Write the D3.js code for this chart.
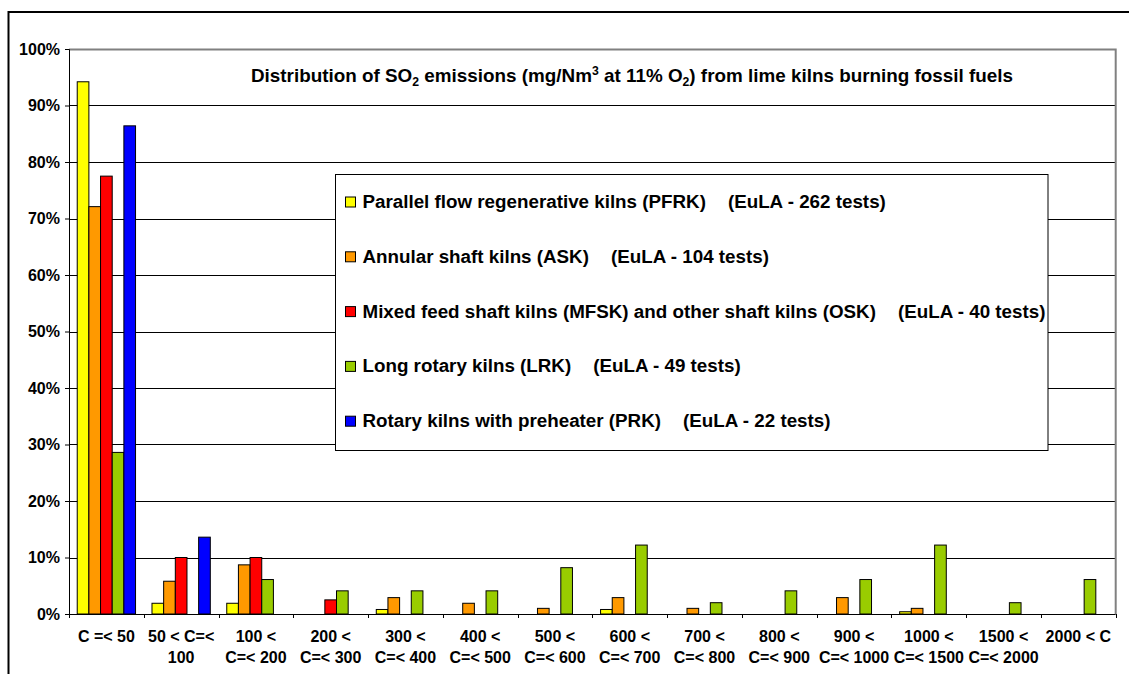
<!DOCTYPE html>
<html>
<head>
<meta charset="utf-8">
<script src="https://cdn.jsdelivr.net/npm/d3@7"></script>
<style>
  html, body { margin: 0; padding: 0; background: #fff; }
  svg { display: block; font-family: "Liberation Sans", Arial, sans-serif; }
</style>
</head>
<body>
<svg id="chart" width="1129" height="674"></svg>
<script>
// ---------- data ----------
const categories = ["C =< 50", "50 < C=< 100", "100 < C=< 200", "200 < C=< 300", "300 < C=< 400",
  "400 < C=< 500", "500 < C=< 600", "600 < C=< 700", "700 < C=< 800", "800 < C=< 900",
  "900 < C=< 1000", "1000 < C=< 1500", "1500 < C=< 2000", "2000 < C"];
const categoryLabelLines = [["C =< 50"], ["50 < C=<", "100"], ["100 <", "C=< 200"], ["200 <", "C=< 300"],
  ["300 <", "C=< 400"], ["400 <", "C=< 500"], ["500 <", "C=< 600"], ["600 <", "C=< 700"],
  ["700 <", "C=< 800"], ["800 <", "C=< 900"], ["900 <", "C=< 1000"], ["1000 <", "C=< 1500"],
  ["1500 <", "C=< 2000"], ["2000 < C"]];

const seriesNames = ["Parallel flow regenerative kilns (PFRK)", "Annular shaft kilns (ASK)",
  "Mixed feed shaft kilns (MFSK) and other shaft kilns (OSK)", "Long rotary kilns (LRK)",
  "Rotary kilns with preheater (PRK)"];
const seriesTests = ["(EuLA - 262 tests)", "(EuLA - 104 tests)", "(EuLA - 40 tests)",
  "(EuLA - 49 tests)", "(EuLA - 22 tests)"];
const seriesColors = ["#FFFF00", "#FF9900", "#FF0000", "#99CC00", "#0000FF"];

// percentages per category
const pfrk = [94.2, 1.9, 1.9, 0, 0.8, 0, 0, 0.8, 0, 0, 0, 0.4, 0, 0];
const ask  = [72.1, 5.8, 8.7, 0, 2.9, 1.9, 1.0, 2.9, 1.0, 0, 2.9, 1.0, 0, 0];
const mfsk = [77.5, 10.0, 10.0, 2.5, 0, 0, 0, 0, 0, 0, 0, 0, 0, 0];
const lrk  = [28.6, 0, 6.1, 4.1, 4.1, 4.1, 8.2, 12.2, 2.0, 4.1, 6.1, 12.2, 2.0, 6.1];
const prk  = [86.4, 13.6, 0, 0, 0, 0, 0, 0, 0, 0, 0, 0, 0, 0];
const seriesValues = [pfrk, ask, mfsk, lrk, prk];

const yTicks = [0, 0.1, 0.2, 0.3, 0.4, 0.5, 0.6, 0.7, 0.8, 0.9, 1.0];

// ---------- layout ----------
const svg = d3.select("#chart");
const plot = { left: 69, top: 49, right: 1115.7, bottom: 614 };

// outer frame
svg.append("rect").attr("x", 8.5).attr("y", 12).attr("width", 1200).attr("height", 800)
  .attr("fill", "none").attr("stroke", "#000").attr("stroke-width", 2);

const x = d3.scaleBand().domain(categories).range([plot.left, plot.right]).paddingInner(0).paddingOuter(0);
const bw = x.bandwidth();
const x1 = d3.scaleBand().domain(d3.range(seriesNames.length)).range([bw * 0.11, bw * 0.89]).padding(0);
const y = d3.scaleLinear().domain([0, 1]).range([plot.bottom, plot.top]);

// gridlines
svg.append("g").selectAll("line").data(yTicks.filter(d => d > 0 && d < 1)).join("line")
  .attr("x1", plot.left).attr("x2", plot.right)
  .attr("y1", d => Math.round(y(d)) + 0.5).attr("y2", d => Math.round(y(d)) + 0.5)
  .attr("stroke", "#000").attr("stroke-width", 1);

// plot area border top/right (gray)
svg.append("path")
  .attr("d", `M${plot.left},${plot.top + 0.5}H${plot.right}V${plot.bottom}`)
  .attr("fill", "none").attr("stroke", "#808080").attr("stroke-width", 2);

// bars
const rows = [];
categories.forEach((c, ci) => {
  seriesValues.forEach((vals, si) => {
    if (vals[ci] > 0) rows.push({ c, si, v: vals[ci] / 100 });
  });
});
svg.append("g").selectAll("rect").data(rows).join("rect")
  .attr("x", d => x(d.c) + x1(d.si))
  .attr("width", x1.bandwidth())
  .attr("y", d => y(d.v))
  .attr("height", d => y(0) - y(d.v))
  .attr("fill", d => seriesColors[d.si])
  .attr("stroke", "#000").attr("stroke-width", 1);

// y axis
const yAxis = svg.append("g").attr("transform", `translate(${plot.left},0)`)
  .call(d3.axisLeft(y).tickValues(yTicks).tickFormat(d3.format(".0%")).tickSize(4).tickPadding(5));
yAxis.select(".domain").attr("stroke", "#000");
yAxis.selectAll(".tick line").attr("stroke", "#000");
yAxis.selectAll("text").attr("font-size", 16).attr("font-weight", "bold")
  .attr("font-family", "Liberation Sans, Arial, sans-serif").attr("fill", "#000");

// x axis line and boundary ticks
const boundaries = categories.map(c => x(c)).concat([plot.right]);
svg.append("line").attr("x1", plot.left).attr("x2", plot.right)
  .attr("y1", plot.bottom + 0.5).attr("y2", plot.bottom + 0.5).attr("stroke", "#000");
svg.append("g").selectAll("line").data(boundaries).join("line")
  .attr("x1", d => Math.round(d) + 0.5).attr("x2", d => Math.round(d) + 0.5)
  .attr("y1", plot.bottom).attr("y2", plot.bottom + 4).attr("stroke", "#000");

// x labels
const xl = svg.append("g").attr("font-size", 16).attr("font-weight", "bold").attr("text-anchor", "middle");
categories.forEach((c, i) => {
  const t = xl.append("text").attr("x", x(c) + bw / 2).attr("y", 641.7);
  categoryLabelLines[i].forEach((line, j) => {
    t.append("tspan").attr("x", x(c) + bw / 2).attr("dy", j === 0 ? 0 : 21.6).text(line);
  });
});

// title
const title = svg.append("text").attr("x", 251).attr("y", 81.7)
  .attr("font-size", 18.5).attr("font-weight", "bold").attr("fill", "#000")
  .attr("textLength", 762).attr("lengthAdjust", "spacingAndGlyphs");
title.append("tspan").text("Distribution of SO");
title.append("tspan").attr("font-size", 12).attr("dy", 4).text("2");
title.append("tspan").attr("dy", -4).text(" emissions (mg/Nm");
title.append("tspan").attr("font-size", 12).attr("dy", -7).text("3");
title.append("tspan").attr("dy", 7).text(" at 11% O");
title.append("tspan").attr("font-size", 12).attr("dy", 4).text("2");
title.append("tspan").attr("dy", -4).text(") from lime  kilns burning fossil fuels");

// legend
const lg = svg.append("g");
lg.append("rect").attr("x", 335.5).attr("y", 174.5).attr("width", 712.5).attr("height", 276)
  .attr("fill", "#fff").attr("stroke", "#000").attr("stroke-width", 1);
seriesNames.forEach((name, i) => {
  const base = 208 + i * 54.8;
  lg.append("rect").attr("x", 345.5).attr("y", base - 11).attr("width", 10).attr("height", 10)
    .attr("fill", seriesColors[i]).attr("stroke", "#000").attr("stroke-width", 1);
  const t = lg.append("text").attr("x", 362.5).attr("y", base)
    .attr("font-size", 18.8).attr("font-weight", "bold").attr("fill", "#000");
  t.append("tspan").text(name);
  t.append("tspan").attr("dx", 22).text(seriesTests[i]);
});
</script>
</body>
</html>
